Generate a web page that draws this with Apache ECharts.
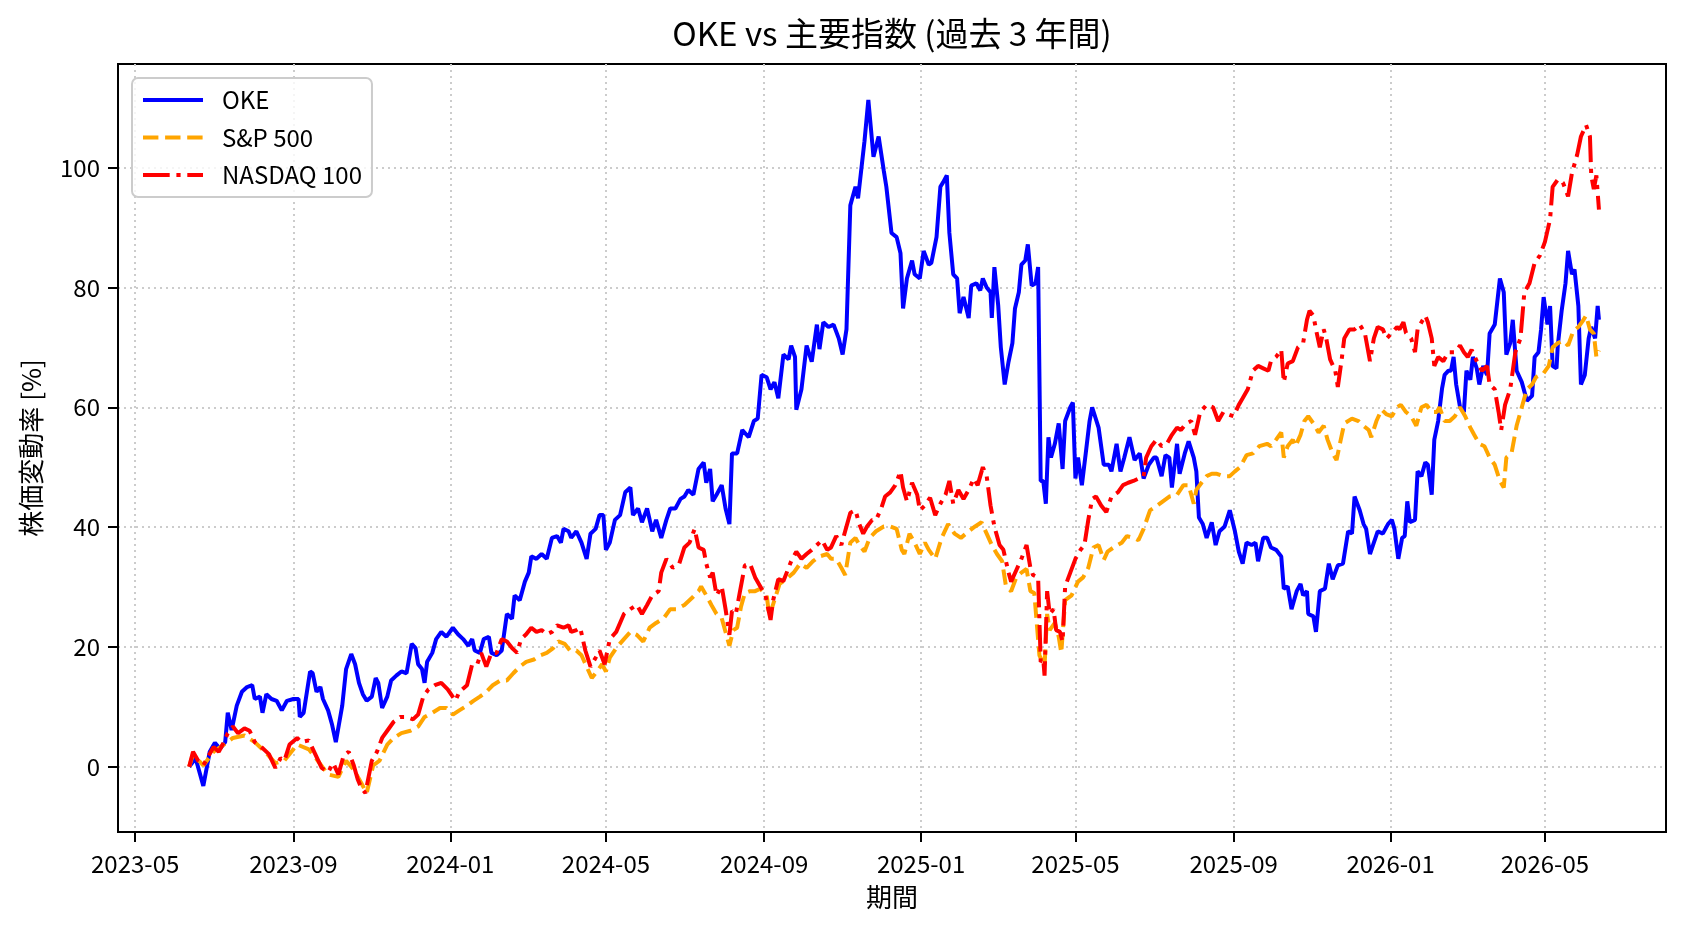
<!DOCTYPE html>
<html>
<head>
<meta charset="utf-8">
<script src="https://cdn.jsdelivr.net/npm/echarts@6/dist/echarts.min.js"></script>
<style>html,body{margin:0;padding:0;background:#fff}#chart{width:1688px;height:932px}</style>
</head>
<body>
<div id="chart"></div>
<script>
const seriesNames = ['OKE', 'S&P 500', 'NASDAQ 100'];
const xTickLabels = ['2023-05','2023-09','2024-01','2024-05','2024-09','2025-01','2025-05','2025-09','2026-01','2026-05'];
const yTickValues = [0, 20, 40, 60, 80, 100];

const okeData = [
['2023-06-12',0],['2023-06-17',1.4],['2023-06-23',-3.2],['2023-06-28',2.5],['2023-07-02',4.0],['2023-07-06',3.0],
['2023-07-10',4.1],['2023-07-12',9.0],['2023-07-15',6.1],['2023-07-19',10.2],['2023-07-23',12.5],['2023-07-27',13.3],
['2023-07-31',13.6],['2023-08-02',11.3],['2023-08-06',11.7],['2023-08-08',9.0],['2023-08-11',12.1],['2023-08-15',11.3],
['2023-08-19',11.0],['2023-08-23',9.4],['2023-08-27',11.0],['2023-09-01',11.3],['2023-09-05',11.3],['2023-09-06',8.3],
['2023-09-09',9.0],['2023-09-14',15.9],['2023-09-16',15.6],['2023-09-19',12.5],['2023-09-22',13.3],['2023-09-24',11.3],
['2023-09-28',9.4],['2023-10-01',7.1],['2023-10-04',4.1],['2023-10-09',10.2],['2023-10-12',16.3],['2023-10-16',18.8],
['2023-10-19',17.1],['2023-10-22',14.0],['2023-10-25',12.1],['2023-10-28',11.0],['2023-11-01',11.7],['2023-11-04',14.8],
['2023-11-06',14.0],['2023-11-09',9.8],['2023-11-13',11.7],['2023-11-16',14.4],['2023-11-20',15.2],['2023-11-24',15.9],
['2023-11-28',15.6],['2023-12-02',20.5],['2023-12-05',19.8],['2023-12-07',17.1],['2023-12-10',16.3],['2023-12-12',14.0],
['2023-12-14',17.5],['2023-12-18',19.0],['2023-12-21',21.3],['2023-12-25',22.5],['2023-12-29',21.7],['2024-01-03',23.2],
['2024-01-07',22.1],['2024-01-11',21.3],['2024-01-15',20.2],['2024-01-18',21.3],['2024-01-20',19.4],['2024-01-24',19.0],
['2024-01-27',21.3],['2024-01-31',21.7],['2024-02-02',19.0],['2024-02-06',18.6],['2024-02-10',19.4],['2024-02-14',25.5],
['2024-02-18',24.7],['2024-02-20',28.6],['2024-02-24',27.8],['2024-02-28',30.9],['2024-03-02',32.4],['2024-03-04',35.1],
['2024-03-08',34.7],['2024-03-12',35.5],['2024-03-16',34.7],['2024-03-20',38.2],['2024-03-24',38.5],['2024-03-27',37.4],
['2024-03-29',39.7],['2024-04-02',39.3],['2024-04-04',38.2],['2024-04-08',39.3],['2024-04-12',37.4],['2024-04-16',34.7],
['2024-04-19',38.9],['2024-04-23',39.7],['2024-04-26',42.0],['2024-04-29',42.0],['2024-05-01',36.2],['2024-05-04',37.4],
['2024-05-08',41.2],['2024-05-12',42.0],['2024-05-16',45.8],['2024-05-20',46.6],['2024-05-22',42.0],['2024-05-26',43.1],
['2024-05-29',40.8],['2024-06-02',43.1],['2024-06-06',39.3],['2024-06-09',41.2],['2024-06-13',38.2],['2024-06-17',41.2],
['2024-06-20',43.1],['2024-06-24',43.1],['2024-06-28',44.7],['2024-07-01',45.1],['2024-07-04',46.2],['2024-07-08',45.4],
['2024-07-12',49.7],['2024-07-16',50.8],['2024-07-18',47.4],['2024-07-21',49.7],['2024-07-23',44.3],['2024-07-26',45.4],
['2024-07-30',47.0],['2024-08-02',43.1],['2024-08-05',40.5],['2024-08-07',52.3],['2024-08-11',52.3],['2024-08-15',56.2],
['2024-08-20',55.0],['2024-08-24',57.7],['2024-08-27',58.1],['2024-08-30',65.4],['2024-09-03',65.0],['2024-09-06',63.0],
['2024-09-09',64.2],['2024-09-12',61.5],['2024-09-16',68.8],['2024-09-20',68.0],['2024-09-22',70.3],['2024-09-25',68.4],
['2024-09-26',59.6],['2024-09-30',63.0],['2024-10-04',70.3],['2024-10-08',67.6],['2024-10-12',73.8],['2024-10-14',69.7],
['2024-10-17',74.2],['2024-10-21',73.4],['2024-10-25',73.8],['2024-10-29',71.5],['2024-11-01',68.8],['2024-11-04',73.0],
['2024-11-07',93.7],['2024-11-11',96.8],['2024-11-13',94.9],['2024-11-16',100.6],['2024-11-18',104.4],['2024-11-21',111.3],
['2024-11-25',101.8],['2024-11-29',105.2],['2024-12-03',99.5],['2024-12-05',96.8],['2024-12-09',89.1],['2024-12-13',88.4],
['2024-12-16',85.7],['2024-12-18',76.5],['2024-12-21',81.5],['2024-12-25',84.5],['2024-12-27',82.2],['2024-12-31',81.5],
['2025-01-03',86.1],['2025-01-07',83.8],['2025-01-09',84.1],['2025-01-13',88.4],['2025-01-16',96.8],['2025-01-18',97.5],
['2025-01-21',98.7],['2025-01-23',89.1],['2025-01-26',82.2],['2025-01-29',81.5],['2025-01-31',75.7],['2025-02-03',78.4],
['2025-02-07',74.9],['2025-02-09',80.3],['2025-02-13',80.7],['2025-02-16',79.5],['2025-02-18',81.5],['2025-02-21',80.0],
['2025-02-24',79.2],['2025-02-25',74.9],['2025-02-27',83.4],['2025-03-02',76.9],['2025-03-04',70.0],['2025-03-07',63.8],
['2025-03-10',67.6],['2025-03-13',70.7],['2025-03-15',76.5],['2025-03-18',79.2],['2025-03-20',83.8],['2025-03-23',84.5],
['2025-03-25',87.2],['2025-03-28',80.3],['2025-03-31',80.7],['2025-04-02',83.4],['2025-04-04',47.7],['2025-04-06',47.7],
['2025-04-08',43.9],['2025-04-10',55.0],['2025-04-12',51.6],['2025-04-15',53.9],['2025-04-18',57.3],['2025-04-21',49.7],
['2025-04-23',57.7],['2025-04-27',60.0],['2025-04-29',60.8],['2025-05-01',48.1],['2025-05-03',51.6],['2025-05-06',47.0],
['2025-05-09',52.3],['2025-05-12',57.7],['2025-05-14',60.0],['2025-05-19',56.6],['2025-05-23',50.4],['2025-05-27',50.4],
['2025-05-29',49.3],['2025-06-02',53.9],['2025-06-05',49.3],['2025-06-08',51.6],['2025-06-12',55.0],['2025-06-16',51.2],
['2025-06-20',52.3],['2025-06-23',48.1],['2025-06-27',50.4],['2025-07-01',51.6],['2025-07-03',51.6],['2025-07-07',48.5],
['2025-07-10',52.0],['2025-07-13',51.6],['2025-07-15',46.6],['2025-07-19',53.9],['2025-07-21',48.9],['2025-07-25',52.3],
['2025-07-28',54.3],['2025-08-01',51.6],['2025-08-03',49.3],['2025-08-05',41.6],['2025-08-08',40.5],['2025-08-11',38.2],
['2025-08-15',40.8],['2025-08-18',37.0],['2025-08-21',39.3],['2025-08-25',40.1],['2025-08-29',42.8],['2025-09-02',39.3],
['2025-09-05',35.9],['2025-09-08',33.9],['2025-09-11',37.4],['2025-09-15',37.0],['2025-09-18',37.4],['2025-09-20',34.3],
['2025-09-24',38.2],['2025-09-27',38.2],['2025-09-30',36.6],['2025-10-04',36.2],['2025-10-08',35.1],['2025-10-10',29.7],
['2025-10-13',30.1],['2025-10-16',26.3],['2025-10-20',29.3],['2025-10-23',30.5],['2025-10-25',28.6],['2025-10-28',29.3],
['2025-10-29',25.5],['2025-11-02',25.1],['2025-11-04',22.5],['2025-11-07',29.3],['2025-11-11',29.7],['2025-11-14',33.9],
['2025-11-17',31.3],['2025-11-21',33.6],['2025-11-25',33.9],['2025-11-29',39.3],['2025-12-02',38.9],['2025-12-04',45.1],
['2025-12-08',42.8],['2025-12-11',40.5],['2025-12-13',39.7],['2025-12-16',35.5],['2025-12-19',37.4],['2025-12-22',39.3],
['2025-12-26',38.9],['2025-12-30',40.5],['2026-01-02',41.2],['2026-01-04',39.7],['2026-01-07',34.7],['2026-01-10',38.2],
['2026-01-12',38.5],['2026-01-14',44.3],['2026-01-16',40.8],['2026-01-20',41.2],['2026-01-22',49.3],['2026-01-25',48.5],
['2026-01-28',50.8],['2026-01-30',50.4],['2026-02-02',45.4],['2026-02-04',54.6],['2026-02-07',57.7],['2026-02-10',63.1],
['2026-02-12',65.4],['2026-02-15',66.1],['2026-02-17',66.1],['2026-02-19',68.4],['2026-02-21',63.8],['2026-02-24',60.0],
['2026-02-27',59.2],['2026-03-01',66.1],['2026-03-04',64.6],['2026-03-06',68.4],['2026-03-09',66.5],['2026-03-11',63.8],
['2026-03-14',66.9],['2026-03-17',65.4],['2026-03-19',72.3],['2026-03-23',73.8],['2026-03-27',81.5],['2026-03-30',79.2],
['2026-04-01',68.8],['2026-04-04',70.7],['2026-04-06',74.6],['2026-04-09',66.1],['2026-04-13',64.2],['2026-04-17',61.1],
['2026-04-21',61.9],['2026-04-23',68.4],['2026-04-26',69.2],['2026-04-28',73.0],['2026-04-30',78.4],['2026-05-03',73.8],
['2026-05-05',76.9],['2026-05-07',66.9],['2026-05-10',66.5],['2026-05-11',70.3],['2026-05-14',76.1],['2026-05-17',80.7],
['2026-05-19',86.1],['2026-05-22',82.2],['2026-05-24',83.0],['2026-05-27',76.9],['2026-05-29',63.8],['2026-06-01',65.4],
['2026-06-04',71.5],['2026-06-06',73.4],['2026-06-09',71.5],['2026-06-11',76.9],['2026-06-12',74.6]
];

const spData = [
['2023-06-12',0],['2023-06-15',2.1],['2023-06-23',0.2],['2023-07-01',2.5],['2023-07-09',3.7],['2023-07-16',4.8],
['2023-07-25',5.2],['2023-08-02',4.1],['2023-08-10',2.5],['2023-08-18',0.6],['2023-08-25',1.0],['2023-09-04',3.7],
['2023-09-13',2.9],['2023-09-20',1.0],['2023-09-28',-1.3],['2023-10-06',-1.7],['2023-10-12',1.0],['2023-10-18',-0.5],
['2023-10-24',-2.8],['2023-10-28',-4.4],['2023-11-02',0.2],['2023-11-07',1.0],['2023-11-13',3.7],['2023-11-18',4.8],
['2023-11-24',5.6],['2023-12-01',6.0],['2023-12-07',6.7],['2023-12-12',8.3],['2023-12-18',9.0],['2023-12-24',9.8],
['2023-12-29',9.8],['2024-01-03',8.7],['2024-01-08',9.4],['2024-01-14',10.2],['2024-01-19',11.0],['2024-01-24',11.7],
['2024-01-29',12.5],['2024-02-03',13.6],['2024-02-09',14.4],['2024-02-14',14.4],['2024-02-19',15.6],['2024-02-24',16.7],
['2024-02-29',17.5],['2024-03-06',17.9],['2024-03-11',18.6],['2024-03-16',19.0],['2024-03-21',19.8],['2024-03-25',20.9],
['2024-03-30',20.5],['2024-04-03',19.4],['2024-04-08',19.4],['2024-04-12',18.6],['2024-04-16',16.7],['2024-04-20',14.8],
['2024-04-24',15.9],['2024-04-28',17.1],['2024-05-01',15.9],['2024-05-04',18.2],['2024-05-09',19.8],['2024-05-15',21.3],
['2024-05-20',22.5],['2024-05-25',22.0],['2024-05-30',20.9],['2024-06-04',23.2],['2024-06-09',24.0],['2024-06-15',24.8],
['2024-06-20',26.3],['2024-06-25',26.3],['2024-07-01',27.0],['2024-07-07',28.2],['2024-07-12',29.3],['2024-07-14',30.1],
['2024-07-18',28.6],['2024-07-22',27.0],['2024-07-26',25.5],['2024-07-30',24.8],['2024-08-03',21.7],['2024-08-05',20.2],
['2024-08-08',22.8],['2024-08-11',23.2],['2024-08-14',26.7],['2024-08-17',29.0],['2024-08-21',29.3],['2024-08-25',29.3],
['2024-08-29',29.7],['2024-09-03',28.6],['2024-09-05',25.1],['2024-09-09',27.8],['2024-09-13',30.5],['2024-09-18',31.3],
['2024-09-24',32.4],['2024-09-29',33.9],['2024-10-04',33.2],['2024-10-09',34.3],['2024-10-14',35.1],['2024-10-20',35.5],
['2024-10-23',34.7],['2024-10-27',34.7],['2024-10-31',33.2],['2024-11-03',32.0],['2024-11-07',37.4],['2024-11-11',38.2],
['2024-11-14',37.0],['2024-11-18',35.9],['2024-11-22',38.2],['2024-11-27',39.3],['2024-12-03',40.1],['2024-12-08',40.1],
['2024-12-13',39.7],['2024-12-17',36.2],['2024-12-19',35.5],['2024-12-23',38.9],['2024-12-27',37.4],['2024-12-31',35.5],
['2025-01-04',37.4],['2025-01-07',36.2],['2025-01-12',34.7],['2025-01-17',38.2],['2025-01-22',40.5],['2025-01-27',38.9],
['2025-02-01',38.2],['2025-02-07',39.3],['2025-02-12',40.1],['2025-02-17',40.8],['2025-02-21',38.9],['2025-02-25',37.0],
['2025-03-01',35.5],['2025-03-05',34.3],['2025-03-08',30.1],['2025-03-12',29.3],['2025-03-16',31.6],['2025-03-20',32.4],
['2025-03-24',33.0],['2025-03-27',29.3],['2025-03-30',29.0],['2025-04-03',18.6],['2025-04-07',16.8],['2025-04-09',25.5],
['2025-04-11',22.8],['2025-04-15',24.0],['2025-04-18',21.7],['2025-04-20',19.0],['2025-04-23',27.8],['2025-04-28',28.6],
['2025-05-03',30.9],['2025-05-07',31.6],['2025-05-11',33.2],['2025-05-15',36.6],['2025-05-19',37.0],['2025-05-23',34.5],
['2025-05-26',35.9],['2025-06-01',36.8],['2025-06-06',37.4],['2025-06-10',38.5],['2025-06-15',38.2],['2025-06-19',37.8],
['2025-06-23',39.7],['2025-06-28',42.8],['2025-07-03',43.5],['2025-07-08',44.3],['2025-07-13',45.1],['2025-07-19',45.4],
['2025-07-24',47.0],['2025-07-28',47.0],['2025-08-01',43.9],['2025-08-03',46.2],['2025-08-07',47.4],['2025-08-11',48.5],
['2025-08-15',48.9],['2025-08-19',48.9],['2025-08-24',48.5],['2025-08-29',48.5],['2025-09-02',49.3],['2025-09-06',50.0],
['2025-09-11',52.0],['2025-09-16',52.3],['2025-09-21',53.5],['2025-09-27',53.9],['2025-09-30',53.5],['2025-10-04',54.6],
['2025-10-08',55.8],['2025-10-10',51.6],['2025-10-13',53.5],['2025-10-17',54.6],['2025-10-19',53.5],['2025-10-23',55.4],
['2025-10-26',57.7],['2025-10-29',58.5],['2025-11-02',57.3],['2025-11-06',55.8],['2025-11-10',56.9],['2025-11-13',54.6],
['2025-11-17',52.3],['2025-11-20',51.2],['2025-11-23',54.3],['2025-11-26',57.3],['2025-12-02',58.1],['2025-12-07',57.7],
['2025-12-11',56.9],['2025-12-15',56.2],['2025-12-17',55.0],['2025-12-21',57.7],['2025-12-25',59.6],['2025-12-29',58.8],
['2026-01-02',58.5],['2026-01-06',60.0],['2026-01-09',60.4],['2026-01-13',59.2],['2026-01-17',58.5],['2026-01-21',56.9],
['2026-01-25',60.0],['2026-01-29',60.4],['2026-02-02',59.2],['2026-02-06',59.2],['2026-02-08',60.0],['2026-02-12',57.7],
['2026-02-16',57.7],['2026-02-20',58.5],['2026-02-24',60.0],['2026-02-28',58.5],['2026-03-04',56.6],['2026-03-07',55.4],
['2026-03-11',53.9],['2026-03-15',53.5],['2026-03-19',51.6],['2026-03-23',50.4],['2026-03-27',47.7],['2026-03-30',46.6],
['2026-04-01',51.6],['2026-04-05',52.3],['2026-04-09',56.9],['2026-04-13',60.0],['2026-04-17',63.0],['2026-04-21',63.8],
['2026-04-24',65.0],['2026-04-30',65.7],['2026-05-04',66.9],['2026-05-07',70.0],['2026-05-11',70.7],['2026-05-15',71.1],
['2026-05-19',70.3],['2026-05-23',72.7],['2026-05-27',73.4],['2026-05-31',74.6],['2026-06-02',75.3],['2026-06-05',73.0],
['2026-06-08',72.3],['2026-06-10',68.4],['2026-06-12',69.5]
];

const ndxData = [
['2023-06-12',0],['2023-06-15',2.5],['2023-06-19',1.0],['2023-06-23',0.2],['2023-06-27',1.8],['2023-07-01',3.3],
['2023-07-05',2.5],['2023-07-09',4.1],['2023-07-12',5.6],['2023-07-16',6.7],['2023-07-20',5.6],['2023-07-25',6.4],
['2023-07-29',6.0],['2023-08-02',4.1],['2023-08-07',3.3],['2023-08-13',2.1],['2023-08-18',-0.2],['2023-08-22',1.4],
['2023-08-25',1.0],['2023-08-29',3.7],['2023-09-04',4.8],['2023-09-07',4.1],['2023-09-13',4.4],['2023-09-18',2.1],
['2023-09-23',-0.2],['2023-09-28',-0.9],['2023-10-02',0.6],['2023-10-06',-1.3],['2023-10-10',1.8],['2023-10-14',2.5],
['2023-10-18',0.2],['2023-10-21',-2.1],['2023-10-24',-3.6],['2023-10-27',-4.4],['2023-11-01',1.0],['2023-11-05',2.5],
['2023-11-09',4.8],['2023-11-13',6.0],['2023-11-18',7.5],['2023-11-23',8.3],['2023-11-28',8.3],['2023-12-03',7.9],
['2023-12-07',8.7],['2023-12-11',11.7],['2023-12-15',12.9],['2023-12-20',13.6],['2023-12-25',14.0],['2023-12-30',12.9],
['2024-01-05',11.0],['2024-01-08',12.5],['2024-01-14',13.6],['2024-01-18',17.1],['2024-01-22',17.1],['2024-01-25',19.0],
['2024-01-29',16.7],['2024-02-02',19.0],['2024-02-06',19.0],['2024-02-10',21.3],['2024-02-14',20.9],['2024-02-18',19.8],
['2024-02-22',19.0],['2024-02-25',21.3],['2024-02-29',22.1],['2024-03-04',23.2],['2024-03-08',22.5],['2024-03-12',22.8],
['2024-03-16',22.1],['2024-03-20',22.5],['2024-03-24',23.6],['2024-03-29',23.2],['2024-04-02',23.6],['2024-04-04',22.5],
['2024-04-08',22.8],['2024-04-11',23.2],['2024-04-15',19.4],['2024-04-19',16.7],['2024-04-23',18.2],['2024-04-26',19.4],
['2024-04-30',17.1],['2024-05-04',21.3],['2024-05-09',22.5],['2024-05-15',25.5],['2024-05-20',26.3],['2024-05-25',27.0],
['2024-05-29',25.5],['2024-06-02',27.0],['2024-06-06',28.6],['2024-06-11',29.3],['2024-06-13',32.4],['2024-06-17',34.7],
['2024-06-22',33.2],['2024-06-27',33.9],['2024-07-01',36.6],['2024-07-05',37.4],['2024-07-09',39.7],['2024-07-12',36.6],
['2024-07-16',36.2],['2024-07-18',33.9],['2024-07-21',31.6],['2024-07-23',32.4],['2024-07-26',28.6],['2024-07-30',30.1],
['2024-08-02',26.3],['2024-08-05',22.0],['2024-08-07',26.0],['2024-08-10',25.5],['2024-08-13',29.0],['2024-08-17',33.6],
['2024-08-21',33.9],['2024-08-25',31.6],['2024-08-29',30.1],['2024-09-02',28.6],['2024-09-06',24.5],['2024-09-08',27.8],
['2024-09-12',31.3],['2024-09-16',31.0],['2024-09-22',34.3],['2024-09-26',35.9],['2024-09-30',34.7],['2024-10-04',35.5],
['2024-10-08',36.2],['2024-10-12',37.0],['2024-10-16',37.8],['2024-10-20',36.2],['2024-10-23',36.6],['2024-10-27',38.5],
['2024-10-31',37.0],['2024-11-04',40.1],['2024-11-07',42.4],['2024-11-11',42.8],['2024-11-14',40.5],['2024-11-17',38.9],
['2024-11-20',40.1],['2024-11-24',41.2],['2024-11-27',41.2],['2024-12-01',43.1],['2024-12-04',45.1],['2024-12-08',45.8],
['2024-12-12',47.0],['2024-12-16',49.3],['2024-12-18',46.6],['2024-12-21',44.3],['2024-12-25',47.4],['2024-12-29',45.4],
['2024-12-31',42.8],['2025-01-04',43.6],['2025-01-08',44.9],['2025-01-12',42.0],['2025-01-16',43.9],['2025-01-20',45.4],
['2025-01-23',47.7],['2025-01-26',43.9],['2025-01-30',46.2],['2025-02-03',44.7],['2025-02-07',46.2],['2025-02-11',48.1],
['2025-02-14',47.0],['2025-02-18',50.0],['2025-02-21',48.5],['2025-02-24',43.6],['2025-02-27',40.1],['2025-03-03',37.0],
['2025-03-06',36.2],['2025-03-10',32.4],['2025-03-12',30.9],['2025-03-16',32.8],['2025-03-20',34.7],['2025-03-24',37.0],
['2025-03-27',33.2],['2025-03-29',32.0],['2025-04-02',31.6],['2025-04-04',17.5],['2025-04-06',17.9],['2025-04-07',15.2],
['2025-04-09',29.3],['2025-04-11',25.5],['2025-04-14',26.3],['2025-04-16',22.8],['2025-04-19',22.5],['2025-04-21',20.9],
['2025-04-23',30.1],['2025-04-27',32.4],['2025-05-01',34.7],['2025-05-05',36.2],['2025-05-08',37.0],['2025-05-11',41.2],
['2025-05-14',44.7],['2025-05-17',45.1],['2025-05-21',43.6],['2025-05-25',42.5],['2025-05-29',45.1],['2025-06-03',45.8],
['2025-06-07',47.0],['2025-06-11',47.4],['2025-06-15',47.7],['2025-06-19',48.1],['2025-06-23',48.5],['2025-06-25',51.6],
['2025-06-29',53.5],['2025-07-03',54.6],['2025-07-07',53.5],['2025-07-11',53.9],['2025-07-15',55.4],['2025-07-19',56.6],
['2025-07-22',56.2],['2025-07-26',57.3],['2025-07-30',57.7],['2025-08-02',55.4],['2025-08-06',59.2],['2025-08-11',60.4],
['2025-08-16',60.0],['2025-08-20',57.7],['2025-08-24',59.2],['2025-08-28',58.8],['2025-09-01',58.5],['2025-09-05',60.4],
['2025-09-08',61.5],['2025-09-12',63.0],['2025-09-16',66.1],['2025-09-20',66.9],['2025-09-24',66.5],['2025-09-28',66.1],
['2025-09-30',67.7],['2025-10-04',68.4],['2025-10-08',69.6],['2025-10-10',64.2],['2025-10-13',67.3],['2025-10-17',67.7],
['2025-10-21',70.0],['2025-10-25',70.7],['2025-10-28',74.6],['2025-10-30',76.1],['2025-11-02',75.3],['2025-11-04',73.0],
['2025-11-07',70.0],['2025-11-10',73.0],['2025-11-12',71.5],['2025-11-15',68.0],['2025-11-19',66.1],['2025-11-21',63.4],
['2025-11-24',68.0],['2025-11-26',71.5],['2025-11-30',73.0],['2025-12-04',73.0],['2025-12-08',73.8],['2025-12-12',72.4],
['2025-12-16',67.7],['2025-12-19',71.5],['2025-12-22',73.4],['2025-12-26',73.0],['2025-12-29',71.5],['2026-01-02',72.4],
['2026-01-06',73.4],['2026-01-08',73.0],['2026-01-11',74.2],['2026-01-13',72.4],['2026-01-17',71.5],['2026-01-20',69.2],
['2026-01-22',73.0],['2026-01-25',74.2],['2026-01-28',75.3],['2026-01-30',74.2],['2026-02-02',71.5],['2026-02-04',66.9],
['2026-02-07',68.4],['2026-02-11',67.7],['2026-02-15',69.2],['2026-02-20',69.2],['2026-02-24',70.3],['2026-02-27',69.2],
['2026-03-02',68.4],['2026-03-05',69.6],['2026-03-09',67.7],['2026-03-13',66.1],['2026-03-17',66.9],['2026-03-19',63.8],
['2026-03-23',63.0],['2026-03-26',59.2],['2026-03-28',56.2],['2026-03-31',60.4],['2026-04-04',63.0],['2026-04-08',69.2],
['2026-04-12',71.5],['2026-04-15',79.2],['2026-04-19',80.7],['2026-04-23',84.1],['2026-04-27',85.3],['2026-05-01',87.6],
['2026-05-05',91.4],['2026-05-07',96.8],['2026-05-11',98.0],['2026-05-15',97.5],['2026-05-19',95.2],['2026-05-22',99.1],
['2026-05-26',102.1],['2026-05-29',105.2],['2026-06-02',107.1],['2026-06-05',105.2],['2026-06-06',98.7],['2026-06-08',96.4],
['2026-06-10',98.7],['2026-06-12',93.0]
];

const FONT = "'Noto Sans CJK JP', 'Noto Sans', sans-serif";
const toTime = s => +new Date(s + 'T00:00:00');
const toPoints = arr => arr.map(p => [toTime(p[0]), p[1]]);
const xTickValues = xTickLabels.map(m => toTime(m + '-01'));
const fmtMonth = v => { const d = new Date(v); return d.getFullYear() + '-' + String(d.getMonth() + 1).padStart(2, '0'); };

const gridLine = { show: true, lineStyle: { color: '#cccccc', width: 2, type: [2, 4] } };

const chart = echarts.init(document.getElementById('chart'), null, { renderer: 'canvas' });
chart.setOption({
  animation: false,
  backgroundColor: '#ffffff',
  title: {
    text: 'OKE vs 主要指数 (過去 3 年間)',
    left: 892, top: 17, padding: 0, textAlign: 'center',
    textStyle: { fontFamily: FONT, fontSize: 33, fontWeight: 'normal', color: '#000' }
  },
  grid: { left: 118, right: 22, top: 64, bottom: 100, show: true, borderColor: '#000', borderWidth: 2, backgroundColor: 'transparent' },
  legend: {
    orient: 'vertical', left: 132, top: 78,
    data: seriesNames,
    itemWidth: 60, itemHeight: 24, itemGap: 13.5,
    padding: [10, 10, 10, 9],
    backgroundColor: 'rgba(255,255,255,0.8)',
    borderColor: '#cccccc', borderWidth: 2, borderRadius: 6,
    itemStyle: { opacity: 0 },
    lineStyle: { width: 4 },
    textStyle: { fontFamily: FONT, fontSize: 24, color: '#000', padding: [0, 0, 0, 14] }
  },
  xAxis: {
    type: 'value',
    min: toTime('2023-04-17') + 16 * 3600e3,
    max: toTime('2026-08-03') + 3 * 3600e3,
    name: '期間', nameLocation: 'middle', nameGap: 52,
    nameTextStyle: { fontFamily: FONT, fontSize: 26, color: '#000' },
    axisLine: { show: true, onZero: false, lineStyle: { color: '#000', width: 2 } },
    axisTick: { show: true, customValues: xTickValues, length: 10, lineStyle: { color: '#000', width: 2 } },
    axisLabel: { customValues: xTickValues, formatter: fmtMonth, margin: 20, fontFamily: FONT, fontSize: 24, color: '#000' },
    splitLine: gridLine
  },
  yAxis: {
    type: 'value',
    min: -10.9, max: 117.3,
    name: '株価変動率 [%]', nameLocation: 'middle', nameGap: 74, nameRotate: 90,
    nameTextStyle: { fontFamily: FONT, fontSize: 26, color: '#000' },
    axisLine: { show: true, onZero: false, lineStyle: { color: '#000', width: 2 } },
    axisTick: { show: true, customValues: yTickValues, length: 10, lineStyle: { color: '#000', width: 2 } },
    axisLabel: { customValues: yTickValues, margin: 18, fontFamily: FONT, fontSize: 24, color: '#000' },
    splitLine: gridLine
  },
  series: [
    { name: seriesNames[0], type: 'line', data: toPoints(okeData), symbol: 'none', showSymbol: false,
      lineStyle: { color: '#0000ff', width: 4 }, itemStyle: { color: '#0000ff' } },
    { name: seriesNames[1], type: 'line', data: toPoints(spData), symbol: 'none', showSymbol: false,
      lineStyle: { color: '#ffa500', width: 4, type: [15.4, 6.7] }, itemStyle: { color: '#ffa500' } },
    { name: seriesNames[2], type: 'line', data: toPoints(ndxData), symbol: 'none', showSymbol: false,
      lineStyle: { color: '#ff0000', width: 4, type: [26.7, 6.7, 4.2, 6.7] }, itemStyle: { color: '#ff0000' } }
  ]
});
</script>
</body>
</html>
